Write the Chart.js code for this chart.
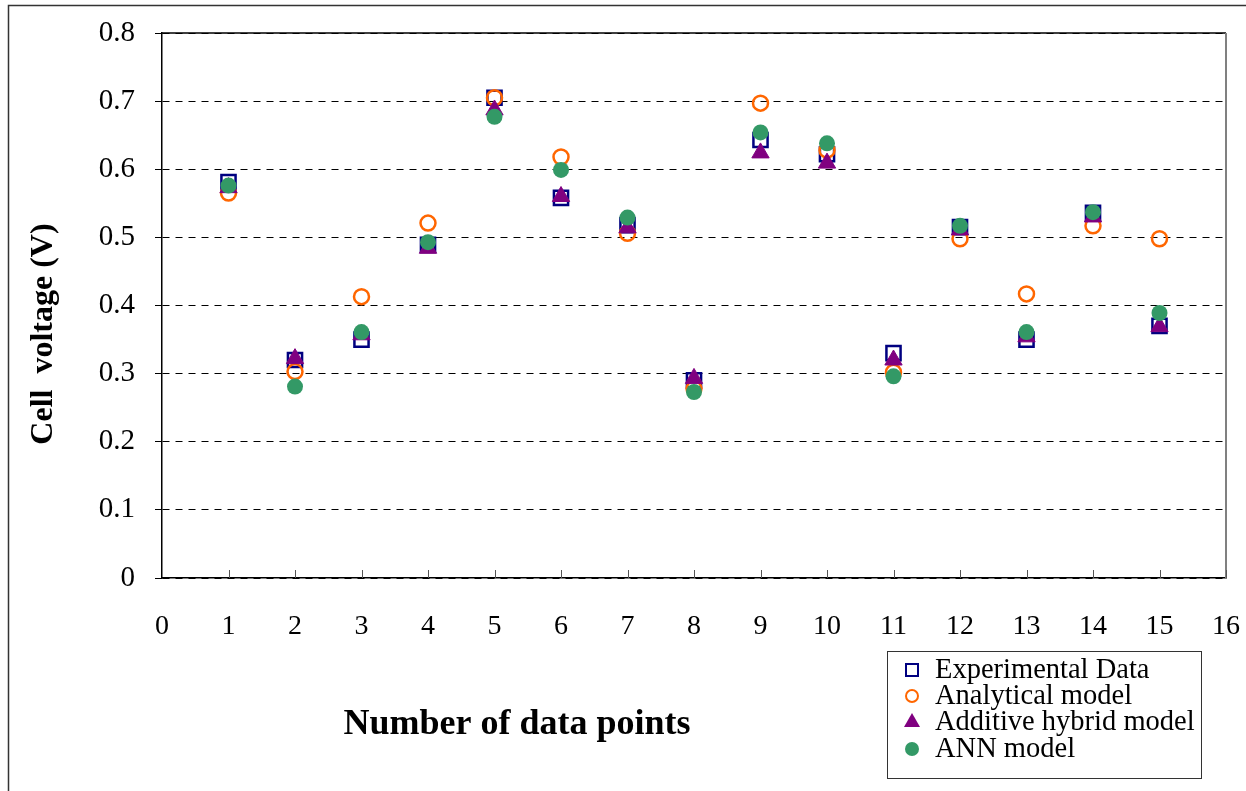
<!DOCTYPE html>
<html>
<head>
<meta charset="utf-8">
<script src="https://cdn.jsdelivr.net/npm/chart.js@4/dist/chart.umd.min.js"></script>
<style>
body { margin: 0; background: #fff; }
canvas { display: block; }
</style>
</head>
<body>
<canvas id="myChart" width="1246" height="791"></canvas>
<script>
// data
const points = [1, 2, 3, 4, 5, 6, 7, 8, 9, 10, 11, 12, 13, 14, 15];
const experimental = [0.581, 0.320, 0.350, 0.489, 0.705, 0.558, 0.518, 0.290, 0.643, 0.622, 0.330, 0.515, 0.350, 0.536, 0.370];
const analytical = [0.565, 0.303, 0.413, 0.521, 0.705, 0.618, 0.506, 0.278, 0.697, 0.628, 0.302, 0.498, 0.417, 0.517, 0.498];
const additive = [0.573, 0.322, 0.357, 0.484, 0.687, 0.560, 0.514, 0.293, 0.624, 0.609, 0.320, 0.511, 0.354, 0.530, 0.369];
const ann = [0.576, 0.281, 0.361, 0.493, 0.677, 0.599, 0.529, 0.273, 0.654, 0.638, 0.296, 0.517, 0.361, 0.537, 0.389];

const seriesNames = ['Experimental Data', 'Analytical model', 'Additive hybrid model', 'ANN model'];
const xTitle = 'Number of data points';
const yTitle = 'Cell  voltage (V)';

const serif = "'Liberation Serif', 'Times New Roman', serif";

function toXY(values)
{
    return values.map(function (v, i) { return {x: points[i], y: v}; });
}

// legend, titles, frame
const decorations = {
    id: 'decorations',
    beforeDraw(chart) {
        const ctx = chart.ctx;
        ctx.save();
        ctx.strokeStyle = '#333';
        ctx.lineWidth = 1.5;
        ctx.strokeRect(8.5, 5.5, 1400, 1000);
        ctx.restore();
    },
    afterDraw(chart) {
        const ctx = chart.ctx;
        const area = chart.chartArea;
        const xs = chart.scales.x;
        ctx.save();

        // top and right edge of plot
        ctx.lineWidth = 1.5;
        ctx.strokeStyle = '#000';
        ctx.beginPath();
        ctx.moveTo(area.left, area.top);
        ctx.lineTo(area.right, area.top);
        ctx.stroke();
        ctx.strokeStyle = '#808080';
        ctx.lineWidth = 2;
        ctx.beginPath();
        ctx.moveTo(area.right, area.top);
        ctx.lineTo(area.right, area.bottom);
        ctx.stroke();

        // inside tick marks on x axis
        ctx.strokeStyle = '#555';
        ctx.lineWidth = 1;
        for (let v = 1; v <= 16; v += 1) {
            const px = Math.round(xs.getPixelForValue(v)) + 0.5;
            ctx.beginPath();
            ctx.moveTo(px, area.bottom);
            ctx.lineTo(px, area.bottom - 8);
            ctx.stroke();
        }

        // axis titles
        ctx.fillStyle = '#000';
        ctx.textAlign = 'center';
        ctx.textBaseline = 'middle';
        ctx.font = 'bold 36px ' + serif;
        ctx.fillText(xTitle, 517, 725);

        ctx.save();
        ctx.translate(44, 334);
        ctx.rotate(-Math.PI / 2);
        ctx.font = 'bold 32px ' + serif;
        ctx.fillText(yTitle, 0, 0);
        ctx.restore();

        // legend box
        ctx.fillStyle = '#fff';
        ctx.fillRect(887, 651, 314, 127);
        ctx.strokeStyle = '#333';
        ctx.lineWidth = 1;
        ctx.strokeRect(887.5, 651.5, 314, 127);

        const rowY = [670, 696, 722, 749];
        ctx.font = '28.5px ' + serif;
        ctx.textAlign = 'left';
        for (let i = 0; i < seriesNames.length; i += 1) {
            const y = rowY[i];
            const mx = 912;
            ctx.lineWidth = 2;
            if (i === 0) {
                ctx.strokeStyle = '#000080';
                ctx.strokeRect(mx - 6, y - 6, 12, 12);
            } else if (i === 1) {
                ctx.strokeStyle = '#FF6600';
                ctx.beginPath();
                ctx.arc(mx, y, 6, 0, Math.PI * 2);
                ctx.stroke();
            } else if (i === 2) {
                ctx.fillStyle = '#800080';
                ctx.beginPath();
                ctx.moveTo(mx, y - 9);
                ctx.lineTo(mx + 8, y + 5);
                ctx.lineTo(mx - 8, y + 5);
                ctx.closePath();
                ctx.fill();
            } else {
                ctx.fillStyle = '#339966';
                ctx.beginPath();
                ctx.arc(mx, y, 7, 0, Math.PI * 2);
                ctx.fill();
            }
            ctx.fillStyle = '#000';
            ctx.fillText(seriesNames[i], 935, y + 1);
        }

        ctx.restore();
    }
};

const ctx = document.getElementById('myChart').getContext('2d');
const myChart = new Chart(ctx, {
    type: 'scatter',
    data: {
        datasets: [
            {
                label: seriesNames[0],
                data: toXY(experimental),
                pointStyle: 'rect',
                pointRadius: 10,
                pointBorderWidth: 2.5,
                borderColor: '#000080',
                backgroundColor: 'rgba(0,0,0,0)',
                order: 3
            },
            {
                label: seriesNames[1],
                data: toXY(analytical),
                pointStyle: 'circle',
                pointRadius: 7.5,
                pointBorderWidth: 2.5,
                borderColor: '#FF6600',
                backgroundColor: 'rgba(0,0,0,0)',
                order: 2
            },
            {
                label: seriesNames[2],
                data: toXY(additive),
                pointStyle: 'triangle',
                pointRadius: 10,
                pointBorderWidth: 1,
                borderColor: '#800080',
                backgroundColor: '#800080',
                order: 1
            },
            {
                label: seriesNames[3],
                data: toXY(ann),
                pointStyle: 'circle',
                pointRadius: 8,
                pointBorderWidth: 0,
                borderColor: '#339966',
                backgroundColor: '#339966',
                order: 0
            }
        ]
    },
    options: {
        responsive: false,
        animation: false,
        layout: {
            padding: {left: 0, top: 33, right: 20, bottom: 0}
        },
        plugins: {
            legend: {display: false},
            tooltip: {enabled: false}
        },
        scales: {
            x: {
                type: 'linear',
                min: 0,
                max: 16,
                afterFit: function (scale) {
                    scale.height = 213;
                    scale.paddingLeft = 0;
                    scale.paddingRight = 0;
                },
                ticks: {
                    stepSize: 1,
                    color: '#000',
                    padding: 32,
                    font: {family: serif, size: 28}
                },
                grid: {display: true, drawOnChartArea: false, drawTicks: false},
                border: {color: '#000', width: 1.5}
            },
            y: {
                min: 0,
                max: 0.8,
                afterFit: function (scale) {
                    scale.width = 162;
                    scale.paddingTop = 0;
                    scale.paddingBottom = 0;
                },
                ticks: {
                    stepSize: 0.1,
                    color: '#000',
                    padding: 20,
                    font: {family: serif, size: 29},
                    callback: function (v) { return v === 0 ? '0' : v.toFixed(1); }
                },
                grid: {
                    color: '#000',
                    lineWidth: 1,
                    tickLength: 7,
                    tickBorderDash: [],
                    tickColor: '#000'
                },
                border: {color: '#000', width: 1.5, dash: [7, 6]}
            }
        }
    },
    plugins: [decorations]
});
</script>
</body>
</html>
